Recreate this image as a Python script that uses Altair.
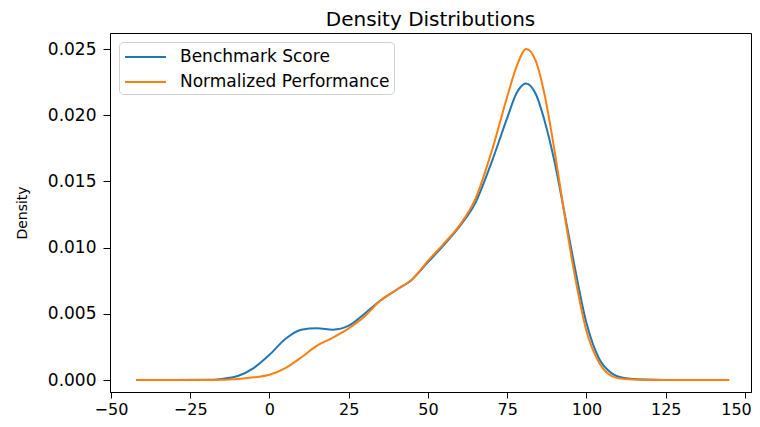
import altair as alt
import pandas as pd

# Grid of x positions
x_vals = [-42, -30, -20, -15, -10, -5, 0, 5, 10, 15, 20, 25, 30, 35, 40, 45, 50, 55,
          60, 65, 70, 75, 78, 81, 84, 87, 90, 93, 96, 100, 104, 108, 112, 118, 125, 135, 145]

benchmark = [0.0, 0.0, 0.00001, 0.00008, 0.0003, 0.0009, 0.0019, 0.0031, 0.0038, 0.0039,
             0.0038, 0.0041, 0.0050, 0.0060, 0.0068, 0.0076, 0.0089, 0.0102, 0.0116, 0.0134,
             0.0164, 0.0198, 0.0217, 0.0224, 0.0216, 0.0194, 0.0164, 0.0127, 0.0089, 0.0043,
             0.0016, 0.0005, 0.00015, 0.00003, 0.0, 0.0, 0.0]

normalized = [0.0, 0.0, 0.0, 0.00002, 0.00007, 0.0002, 0.0004, 0.0009, 0.0017, 0.0026,
              0.0032, 0.0039, 0.0048, 0.0060, 0.0068, 0.0076, 0.0090, 0.0103, 0.0117, 0.0137,
              0.0172, 0.0214, 0.0237, 0.0250, 0.0241, 0.0213, 0.0172, 0.0126, 0.0083, 0.0037,
              0.0013, 0.0003, 0.00007, 0.00001, 0.0, 0.0, 0.0]

series_names = ["Benchmark Score", "Normalized Performance"]
series_colors = ["#1f77b4", "#ff7f0e"]

x_ticks = [-50, -25, 0, 25, 50, 75, 100, 125, 150]
y_ticks = [0.0, 0.005, 0.010, 0.015, 0.020, 0.025]

rows = []
for name, vals in zip(series_names, [benchmark, normalized]):
    for i, (xv, yv) in enumerate(zip(x_vals, vals)):
        rows.append({"x": xv, "density": yv, "series": name, "order": i})
df = pd.DataFrame(rows)

FONT = "DejaVu Sans"

x_axis = alt.Axis(
    values=x_ticks, title=None, grid=False, format="d", labelFlush=False,
    labelFontSize=16, tickSize=6, labelPadding=3,
    labelOffset=alt.condition("datum.value == 150", alt.value(-9), alt.value(0)),
)

chart = alt.Chart(df).mark_line(interpolate="monotone", strokeWidth=2).encode(
    x=alt.X("x:Q", scale=alt.Scale(domain=[-50.3, 151.9], nice=False, zero=False),
            axis=x_axis),
    y=alt.Y("density:Q", scale=alt.Scale(domain=[-0.000906, 0.02621], nice=False, zero=False),
            axis=alt.Axis(values=y_ticks, title="Density", format=".3f", grid=False,
                          labelFlush=False, labelFontSize=17, tickSize=7, labelPadding=7,
                          titlePadding=18)),
    color=alt.Color("series:N", sort=series_names,
                    scale=alt.Scale(domain=series_names, range=series_colors),
                    legend=alt.Legend(orient="none", legendX=9, legendY=9, title=None,
                                      symbolType="M-0.9,0H3.2", symbolSize=400,
                                      symbolStrokeWidth=2, labelFontSize=17,
                                      labelFont=FONT, labelColor="black", labelLimit=0,
                                      strokeColor="#d0d0d0", cornerRadius=4,
                                      padding=4, fillColor="white", labelOffset=35,
                                      rowPadding=6)),
    order=alt.Order("order:Q"),
    detail="series:N",
).properties(
    width=641,
    height=359,
    title=alt.TitleParams("Density Distributions", fontSize=20, font=FONT,
                          fontWeight="normal", anchor="middle", offset=3, color="black"),
    autosize=alt.AutoSizeParams(type="none"),
    padding={"left": 102, "top": 25, "right": 1, "bottom": 27},
).configure_view(
    stroke="black", strokeWidth=1
).configure_axis(
    domainColor="black", tickColor="black", labelColor="black", titleColor="black",
    labelFont=FONT, titleFont=FONT, titleFontSize=14,
    titleFontWeight="normal", domainWidth=1, tickWidth=1
)

chart.save("out.html", embed_options={"renderer": "svg", "actions": False})
